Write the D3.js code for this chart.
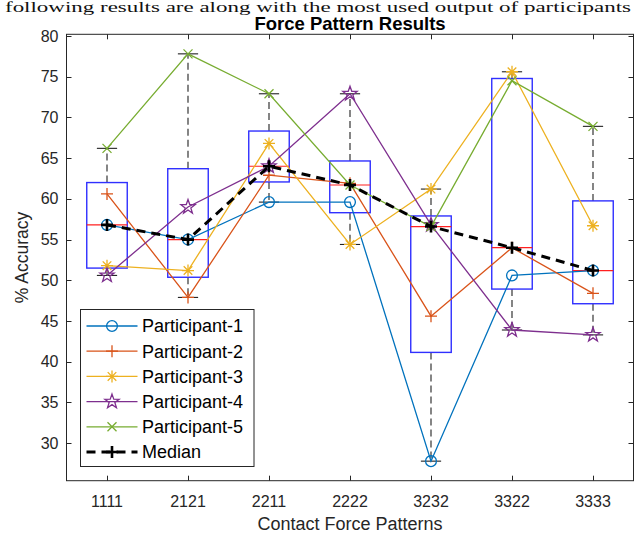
<!DOCTYPE html>
<html>
<head>
<meta charset="utf-8">
<script src="https://cdn.jsdelivr.net/npm/d3@7/dist/d3.min.js"></script>
<style>
  html, body { margin: 0; padding: 0; background: #fff; }
  svg { display: block; }
  text { font-family: Arial, "Liberation Sans", Helvetica, sans-serif; }
  text.page { font-family: "Liberation Serif", "DejaVu Serif", serif; }
</style>
</head>
<body>
<svg id="chart" width="638" height="533"></svg>
<script>
// ---------- data ----------
const categories = ["1111", "2121", "2211", "2222", "3232", "3322", "3333"];
const participant1 = [56.8, 55.0, 59.6, 59.6, 27.8, 50.6, 51.2];
const participant2 = [60.6, 47.9, 62.9, 61.9, 45.6, 54.0, 48.4];
const participant3 = [51.8, 51.2, 66.8, 54.4, 61.2, 75.6, 56.7];
const participant4 = [50.6, 59.0, 64.0, 72.9, 56.8, 43.9, 43.3];
const participant5 = [66.2, 77.8, 72.9, 61.7, 56.6, 74.5, 68.9];
const seriesNames = ["Participant-1", "Participant-2", "Participant-3", "Participant-4", "Participant-5"];
const yTicks = [30, 35, 40, 45, 50, 55, 60, 65, 70, 75, 80];
const titleText = "Force Pattern Results";
const xLabel = "Contact Force Patterns";
const yLabel = "% Accuracy";
const pageText = "following results are along with the most used output of participants";

const seriesValues = [participant1, participant2, participant3, participant4, participant5];
const colors = ["#0072BD", "#D95319", "#EDB120", "#7E2F8E", "#77AC30"];
const markers = ["circle", "plus", "asterisk", "pentagram", "cross"];

// ---------- layout ----------
const svg = d3.select("#chart");
const L = 66.5, R = 633.5, T = 34.3, B = 480.7;
const x = d3.scaleLinear().domain([0.5, 7.5]).range([L, R]);
const y = d3.scaleLinear().domain([25.4, 80.2]).range([B, T]);
const axisColor = "#262626";

// page text above chart
svg.append("text").attr("class", "page").attr("x", 5).attr("y", 12)
  .attr("textLength", 626).attr("lengthAdjust", "spacingAndGlyphs")
  .attr("font-size", 14.5).attr("fill", "#111").text(pageText);

svg.append("rect").attr("x", L).attr("y", T).attr("width", R - L).attr("height", B - T).attr("fill", "#fff");

// ---------- boxplot stats (MATLAB-style quantiles) ----------
function mquantile(sorted, p) {
  const n = sorted.length;
  let pos = n * p + 0.5;
  if (pos <= 1) return sorted[0];
  if (pos >= n) return sorted[n - 1];
  const i = Math.floor(pos), f = pos - i;
  return sorted[i - 1] + f * (sorted[i] - sorted[i - 1]);
}
const stats = categories.map((c, i) => {
  const vals = seriesValues.map(s => s[i]).sort(d3.ascending);
  const q1 = mquantile(vals, 0.25), q3 = mquantile(vals, 0.75), med = mquantile(vals, 0.5);
  const iqr = q3 - q1;
  const hi = d3.max(vals.filter(v => v <= q3 + 1.5 * iqr));
  const lo = d3.min(vals.filter(v => v >= q1 - 1.5 * iqr));
  return { i: i + 1, q1, q3, med, hi, lo };
});
const medianSeries = stats.map(s => s.med);

const boxHalf = (x(1.5) - x(1)) / 2;
const capHalf = boxHalf / 2;
const gBox = svg.append("g");
stats.forEach(s => {
  const cx = x(s.i);
  gBox.append("line").attr("x1", cx).attr("x2", cx).attr("y1", y(s.q3)).attr("y2", y(s.hi))
    .attr("stroke", "#222").attr("stroke-width", 1.1).attr("stroke-dasharray", "7,4");
  gBox.append("line").attr("x1", cx).attr("x2", cx).attr("y1", y(s.q1)).attr("y2", y(s.lo))
    .attr("stroke", "#222").attr("stroke-width", 1.1).attr("stroke-dasharray", "7,4");
  [s.hi, s.lo].forEach(v => {
    gBox.append("line").attr("x1", cx - capHalf).attr("x2", cx + capHalf).attr("y1", y(v)).attr("y2", y(v))
      .attr("stroke", "#222").attr("stroke-width", 1.1);
  });
  gBox.append("rect").attr("x", cx - boxHalf).attr("y", y(s.q3)).attr("width", 2 * boxHalf)
    .attr("height", y(s.q1) - y(s.q3)).attr("fill", "none").attr("stroke", "#3030ff").attr("stroke-width", 1.4);
  gBox.append("line").attr("x1", cx - boxHalf).attr("x2", cx + boxHalf).attr("y1", y(s.med)).attr("y2", y(s.med))
    .attr("stroke", "#ff2020").attr("stroke-width", 1.2);
});

// ---------- marker drawing ----------
function starPath(ro, ri) {
  let p = "";
  for (let k = 0; k < 10; k++) {
    const a = -Math.PI / 2 + k * Math.PI / 5;
    const r = k % 2 === 0 ? ro : ri;
    p += (k === 0 ? "M" : "L") + (r * Math.cos(a)).toFixed(2) + "," + (r * Math.sin(a)).toFixed(2);
  }
  return p + "Z";
}
function drawMarker(g, type, cx, cy, color, sw) {
  const m = g.append("g").attr("transform", `translate(${cx},${cy})`)
    .attr("stroke", color).attr("fill", "none").attr("stroke-width", sw || 1.2);
  if (type === "circle") m.append("circle").attr("r", 5.4);
  else if (type === "plus") m.append("path").attr("d", "M-6,0H6M0,-6V6");
  else if (type === "asterisk") m.append("path").attr("d", "M-6,0H6M0,-6V6M-4.3,-4.3L4.3,4.3M-4.3,4.3L4.3,-4.3");
  else if (type === "pentagram") m.append("path").attr("d", starPath(7.5, 3));
  else if (type === "cross") m.append("path").attr("d", "M-4.5,-4.5L4.5,4.5M-4.5,4.5L4.5,-4.5");
  else if (type === "medplus") m.append("path").attr("d", "M-6,0H6M0,-6V6");
}

// ---------- participant lines ----------
const line = d3.line().x((d, i) => x(i + 1)).y(d => y(d));
const gLines = svg.append("g");
seriesValues.forEach((vals, k) => {
  gLines.append("path").datum(vals).attr("d", line).attr("fill", "none")
    .attr("stroke", colors[k]).attr("stroke-width", 1.3);
  vals.forEach((v, i) => drawMarker(gLines, markers[k], x(i + 1), y(v), colors[k], 1.3));
});
gLines.append("path").datum(medianSeries).attr("d", line).attr("fill", "none")
  .attr("stroke", "#000").attr("stroke-width", 3).attr("stroke-dasharray", "9,6");
medianSeries.forEach((v, i) => drawMarker(gLines, "medplus", x(i + 1), y(v), "#000", 2.6));

// ---------- axes ----------
const gAx = svg.append("g");
gAx.append("rect").attr("x", L).attr("y", T).attr("width", R - L).attr("height", B - T)
  .attr("fill", "none").attr("stroke", axisColor).attr("stroke-width", 1);
const tickLen = 5;
yTicks.forEach(t => {
  const yy = Math.round(y(t)) + 0.5;
  gAx.append("line").attr("x1", L).attr("x2", L + tickLen).attr("y1", yy).attr("y2", yy).attr("stroke", axisColor);
  gAx.append("line").attr("x1", R).attr("x2", R - tickLen).attr("y1", yy).attr("y2", yy).attr("stroke", axisColor);
  gAx.append("text").attr("x", L - 8).attr("y", y(t)).attr("dy", "0.35em").attr("text-anchor", "end")
    .attr("font-size", 16).attr("fill", axisColor).text(t);
});
categories.forEach((c, i) => {
  const xx = Math.round(x(i + 1)) + 0.5;
  gAx.append("line").attr("x1", xx).attr("x2", xx).attr("y1", B).attr("y2", B - tickLen).attr("stroke", axisColor);
  gAx.append("line").attr("x1", xx).attr("x2", xx).attr("y1", T).attr("y2", T + tickLen).attr("stroke", axisColor);
  gAx.append("text").attr("x", x(i + 1)).attr("y", 507).attr("text-anchor", "middle")
    .attr("font-size", 16).attr("fill", axisColor).text(c);
});
svg.append("text").attr("x", (L + R) / 2).attr("y", 530).attr("text-anchor", "middle")
  .attr("font-size", 18).attr("fill", axisColor).text(xLabel);
svg.append("text").attr("transform", `translate(28,${(T + B) / 2}) rotate(-90)`).attr("text-anchor", "middle")
  .attr("font-size", 17.5).attr("fill", axisColor).text(yLabel);
svg.append("text").attr("x", (L + R) / 2).attr("y", 30).attr("text-anchor", "middle")
  .attr("font-size", 18.5).attr("font-weight", "bold").attr("fill", "#000").text(titleText);

// ---------- legend ----------
const lg = svg.append("g");
lg.append("rect").attr("x", 80.5).attr("y", 309.5).attr("width", 173.5).attr("height", 157)
  .attr("fill", "#fff").attr("stroke", axisColor).attr("stroke-width", 1);
const legendNames = seriesNames.concat(["Median"]);
legendNames.forEach((name, k) => {
  const ly = 326 + k * 25.2;
  if (k < 5) {
    lg.append("line").attr("x1", 86.5).attr("x2", 137.5).attr("y1", ly).attr("y2", ly)
      .attr("stroke", colors[k]).attr("stroke-width", 1.3);
    drawMarker(lg, markers[k], 112, ly, colors[k], 1.3);
  } else {
    lg.append("line").attr("x1", 86.5).attr("x2", 137.5).attr("y1", ly).attr("y2", ly)
      .attr("stroke", "#000").attr("stroke-width", 3).attr("stroke-dasharray", "9,6");
    drawMarker(lg, "medplus", 112, ly, "#000", 2.6);
  }
  lg.append("text").attr("x", 142).attr("y", ly).attr("dy", "0.35em")
    .attr("font-size", 18).attr("fill", "#000").text(name);
});
</script>
</body>
</html>
